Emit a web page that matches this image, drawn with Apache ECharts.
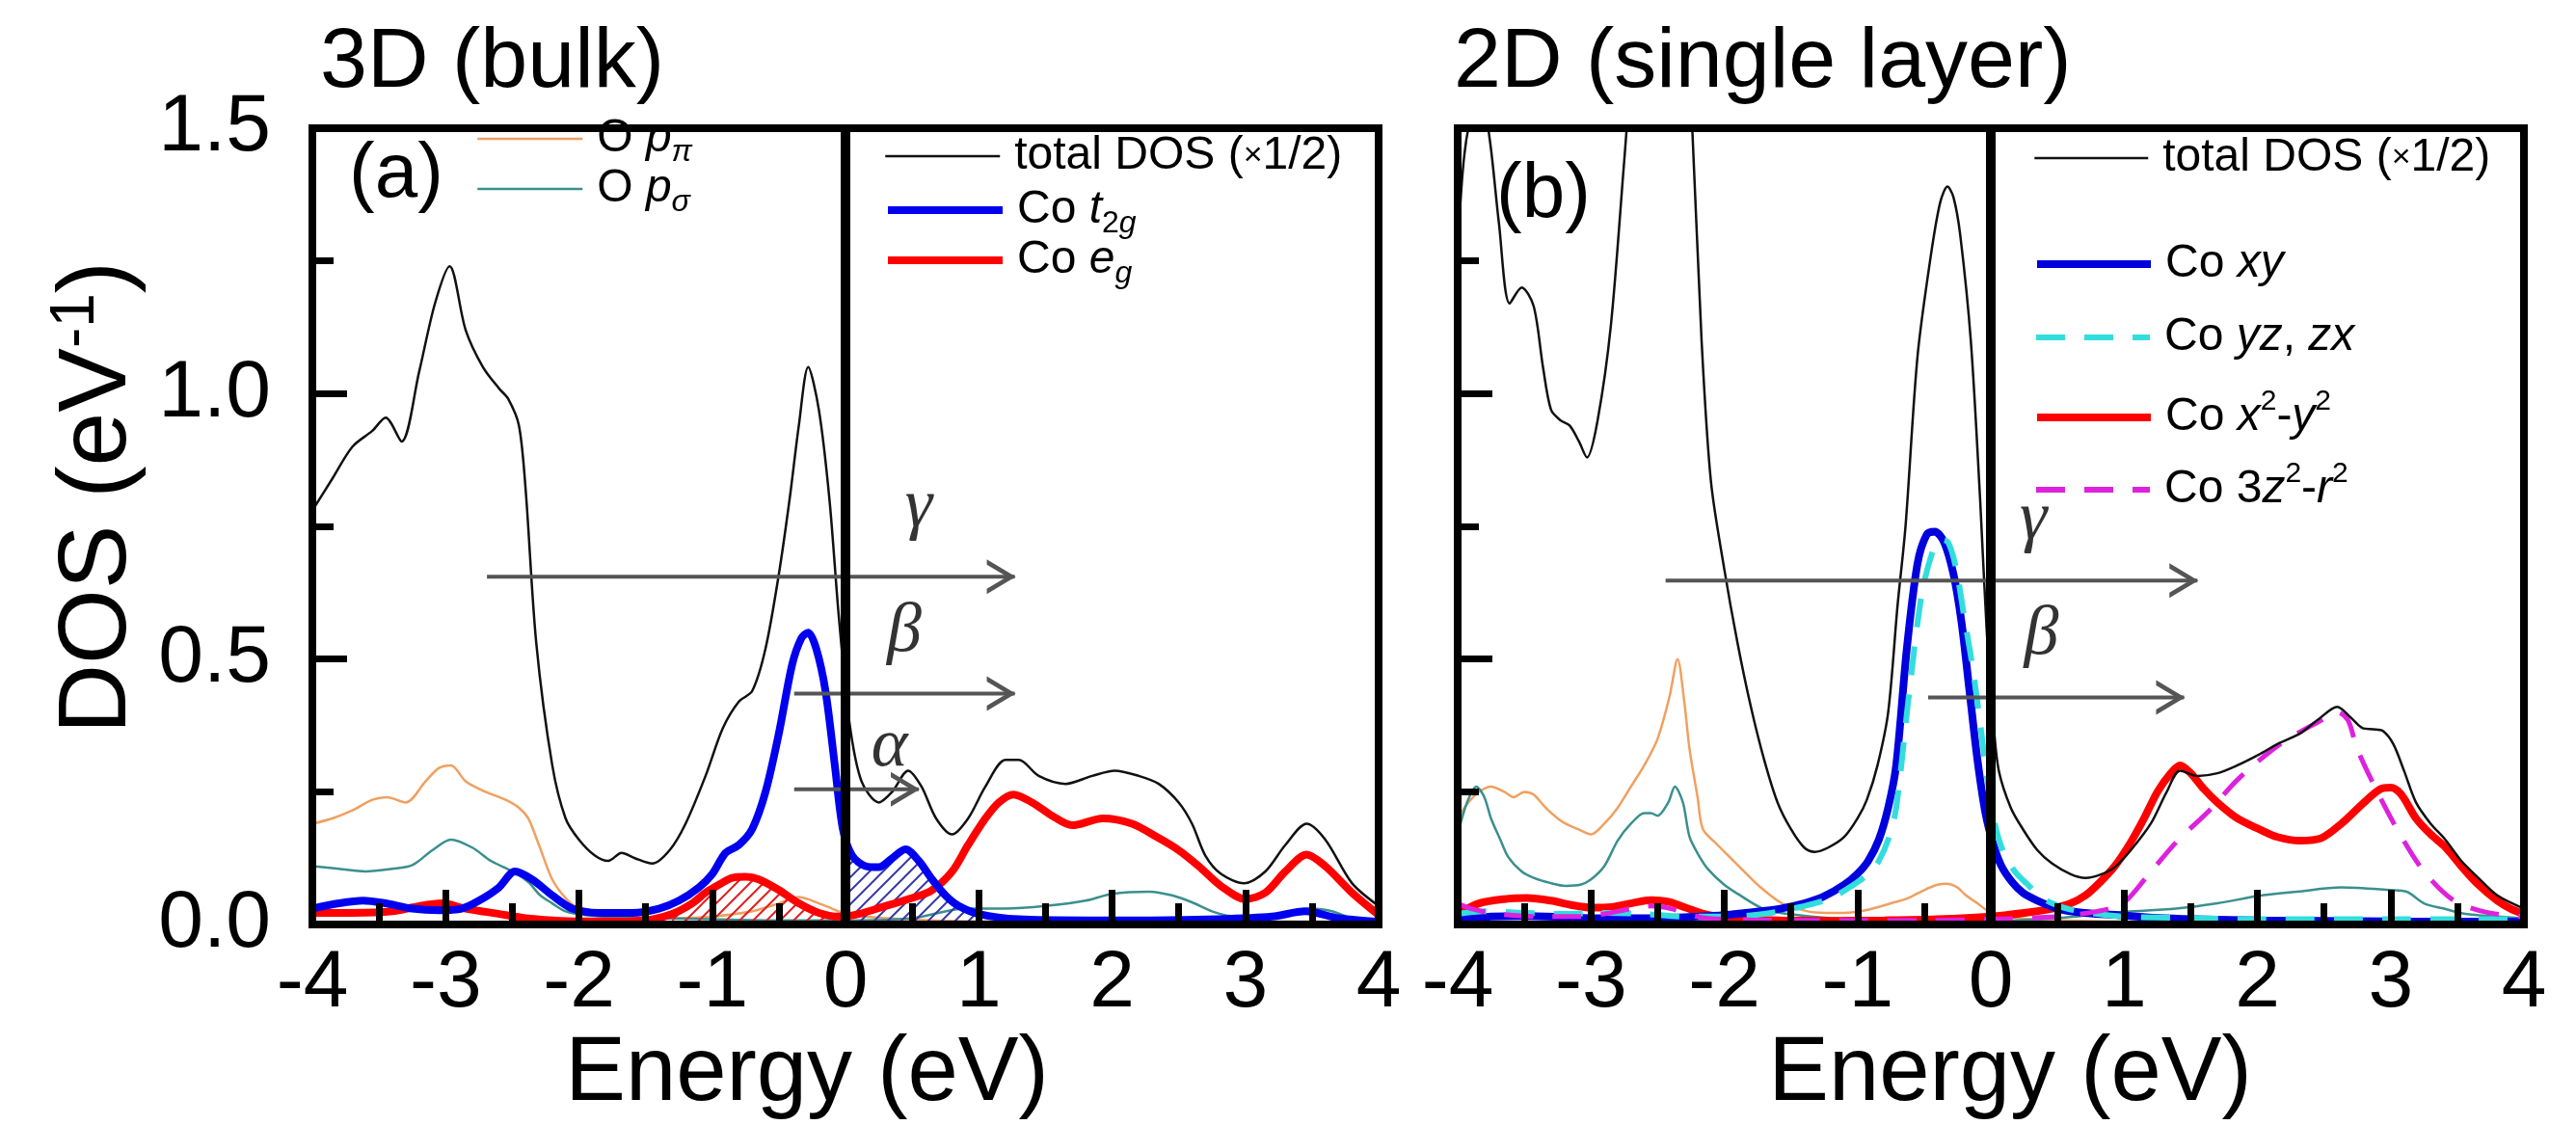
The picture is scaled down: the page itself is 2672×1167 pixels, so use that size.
<!DOCTYPE html>
<html>
<head>
<meta charset="utf-8">
<title>DOS 3D bulk vs 2D single layer</title>
<script src="https://cdn.jsdelivr.net/npm/echarts@6/dist/echarts.min.js"></script>
<style>
html, body { margin: 0; padding: 0; background: #fff; }
#chart { width: 2672px; height: 1167px; }
</style>
</head>
<body>
<div id="chart"></div>
<script>
// ---------- panel (a): 3D (bulk) ----------
var totA_E = [-4.0,-3.85,-3.7,-3.55,-3.45,-3.33,-3.2,-3.08,-2.97,-2.85,-2.72,-2.6,-2.53,-2.45,-2.4,-2.32,-2.2,-2.1,-2.0,-1.88,-1.78,-1.68,-1.58,-1.45,-1.32,-1.2,-1.05,-0.92,-0.8,-0.7,-0.6,-0.5,-0.42,-0.35,-0.28,-0.2,-0.12,-0.05,0.03,0.12,0.25,0.35,0.47,0.57,0.68,0.8,0.92,1.05,1.2,1.3,1.45,1.65,1.85,2.02,2.2,2.35,2.5,2.6,2.7,2.82,2.99,3.15,3.3,3.46,3.6,3.8,4.0];
var totA   = [0.78,0.84,0.9,0.93,0.955,0.91,1.04,1.17,1.24,1.12,1.05,1.01,0.99,0.94,0.82,0.53,0.3,0.2,0.16,0.13,0.12,0.135,0.125,0.115,0.14,0.19,0.28,0.37,0.42,0.44,0.52,0.66,0.8,0.94,1.05,0.97,0.8,0.58,0.38,0.27,0.23,0.25,0.29,0.26,0.2,0.17,0.2,0.26,0.31,0.31,0.28,0.265,0.28,0.29,0.28,0.265,0.23,0.19,0.13,0.095,0.078,0.1,0.15,0.19,0.16,0.078,0.035];

var t2gA_E = [-4.0,-3.8,-3.62,-3.45,-3.25,-3.05,-2.88,-2.75,-2.6,-2.48,-2.35,-2.2,-2.05,-1.85,-1.6,-1.4,-1.25,-1.1,-1.0,-0.9,-0.8,-0.7,-0.6,-0.5,-0.4,-0.33,-0.28,-0.22,-0.15,-0.08,-0.02,0.05,0.15,0.25,0.35,0.45,0.55,0.65,0.75,0.85,1.0,1.3,1.8,2.3,2.8,3.2,3.45,3.7,4.0];
var t2gA   = [0.03,0.04,0.045,0.04,0.03,0.027,0.03,0.045,0.07,0.1,0.085,0.055,0.03,0.022,0.022,0.03,0.045,0.07,0.095,0.135,0.15,0.18,0.25,0.36,0.49,0.54,0.55,0.52,0.44,0.3,0.18,0.13,0.11,0.108,0.125,0.142,0.12,0.085,0.055,0.035,0.02,0.01,0.008,0.008,0.01,0.015,0.025,0.012,0.005];

var egA_E = [-4.0,-3.7,-3.4,-3.2,-3.03,-2.85,-2.6,-2.4,-2.2,-2.0,-1.7,-1.45,-1.3,-1.15,-1.05,-0.95,-0.85,-0.75,-0.65,-0.5,-0.35,-0.2,-0.05,0.1,0.3,0.5,0.65,0.8,0.92,1.05,1.15,1.26,1.4,1.55,1.7,1.93,2.15,2.35,2.5,2.65,2.82,3.0,3.15,3.3,3.46,3.6,3.8,4.0];
var egA   = [0.022,0.022,0.025,0.035,0.04,0.03,0.02,0.012,0.008,0.006,0.006,0.01,0.02,0.04,0.06,0.075,0.088,0.09,0.085,0.065,0.04,0.022,0.015,0.02,0.035,0.05,0.065,0.1,0.15,0.2,0.23,0.245,0.23,0.205,0.187,0.2,0.19,0.163,0.14,0.11,0.072,0.048,0.06,0.1,0.132,0.11,0.06,0.018];

var ppiA_E = [-4.0,-3.85,-3.7,-3.55,-3.44,-3.3,-3.15,-3.05,-2.96,-2.85,-2.7,-2.55,-2.45,-2.38,-2.3,-2.2,-2.1,-2.0,-1.85,-1.6,-1.3,-1.0,-0.7,-0.5,-0.35,-0.25,-0.1,0.0,0.3,1.0,2.0,3.0,4.0];
var ppiA   = [0.19,0.2,0.215,0.235,0.24,0.23,0.27,0.295,0.3,0.27,0.25,0.235,0.22,0.2,0.15,0.085,0.05,0.03,0.02,0.012,0.012,0.015,0.025,0.04,0.052,0.045,0.03,0.02,0.012,0.006,0.006,0.006,0.005];

var psgA_E = [-4.0,-3.8,-3.6,-3.4,-3.25,-3.1,-2.96,-2.8,-2.66,-2.5,-2.38,-2.29,-2.2,-2.1,-1.95,-1.7,-1.4,-1.0,-0.5,0.0,0.5,0.9,1.2,1.5,1.8,2.0,2.28,2.45,2.6,2.75,2.9,3.1,3.3,3.5,3.65,3.8,4.0];
var psgA   = [0.11,0.105,0.1,0.105,0.112,0.14,0.16,0.145,0.12,0.1,0.08,0.055,0.04,0.025,0.018,0.014,0.012,0.01,0.008,0.008,0.012,0.03,0.03,0.035,0.045,0.058,0.062,0.055,0.042,0.025,0.016,0.015,0.022,0.03,0.025,0.012,0.008];

// ---------- panel (b): 2D (single layer) ----------
var totB_E = [-4.0,-3.95,-3.88,-3.82,-3.76,-3.69,-3.61,-3.52,-3.43,-3.36,-3.3,-3.23,-3.16,-3.09,-3.03,-2.95,-2.85,-2.75,-2.65,-2.5,-2.35,-2.24,-2.17,-2.1,-2.0,-1.9,-1.8,-1.7,-1.6,-1.5,-1.4,-1.32,-1.22,-1.1,-1.0,-0.93,-0.85,-0.77,-0.7,-0.64,-0.55,-0.45,-0.38,-0.325,-0.28,-0.23,-0.15,-0.08,-0.03,0.02,0.06,0.15,0.24,0.35,0.46,0.6,0.71,0.82,0.93,1.05,1.2,1.32,1.42,1.55,1.7,1.85,2.01,2.15,2.32,2.45,2.6,2.7,2.79,2.87,2.94,3.02,3.1,3.19,3.3,3.41,3.53,3.65,3.8,4.0];
var totB   = [1.27,1.45,1.54,1.55,1.48,1.32,1.17,1.2,1.165,1.05,0.97,0.95,0.94,0.91,0.88,0.95,1.13,1.44,1.75,2.0,2.0,1.5,1.1,0.835,0.67,0.53,0.41,0.31,0.23,0.18,0.145,0.137,0.145,0.165,0.2,0.235,0.3,0.4,0.6,0.75,1.07,1.26,1.36,1.39,1.37,1.3,1.1,0.8,0.55,0.38,0.29,0.22,0.18,0.14,0.115,0.095,0.088,0.094,0.108,0.14,0.19,0.25,0.29,0.28,0.285,0.3,0.32,0.34,0.36,0.385,0.41,0.39,0.37,0.368,0.365,0.34,0.29,0.23,0.19,0.16,0.12,0.09,0.055,0.03];

var xyB_E = [-4.0,-3.9,-3.75,-3.5,-3.2,-3.0,-2.8,-2.6,-2.4,-2.2,-2.0,-1.8,-1.58,-1.4,-1.26,-1.1,-1.0,-0.92,-0.84,-0.77,-0.71,-0.63,-0.55,-0.48,-0.42,-0.35,-0.28,-0.22,-0.16,-0.1,-0.04,0.02,0.08,0.16,0.24,0.35,0.5,0.7,0.95,1.3,2.0,3.0,4.0];
var xyB   = [0.01,0.012,0.015,0.016,0.014,0.012,0.012,0.012,0.013,0.015,0.018,0.023,0.03,0.04,0.052,0.075,0.096,0.12,0.16,0.22,0.3,0.52,0.68,0.735,0.74,0.72,0.66,0.57,0.44,0.31,0.21,0.15,0.11,0.08,0.06,0.045,0.03,0.022,0.018,0.012,0.008,0.006,0.005];

var yzB_E = [-4.0,-3.8,-3.5,-3.2,-2.9,-2.6,-2.3,-2.0,-1.7,-1.4,-1.2,-1.0,-0.9,-0.84,-0.77,-0.71,-0.62,-0.52,-0.44,-0.38,-0.32,-0.26,-0.2,-0.14,-0.08,-0.03,0.03,0.09,0.18,0.27,0.36,0.46,0.6,0.8,1.0,1.5,2.0,3.0,4.0];
var yzB   = [0.02,0.025,0.022,0.02,0.022,0.02,0.015,0.015,0.02,0.035,0.05,0.08,0.1,0.12,0.16,0.22,0.42,0.62,0.7,0.725,0.72,0.67,0.58,0.49,0.38,0.28,0.19,0.14,0.1,0.077,0.055,0.04,0.028,0.02,0.015,0.012,0.01,0.01,0.01];

var x2B_E = [-4.0,-3.84,-3.65,-3.48,-3.3,-3.15,-3.0,-2.85,-2.7,-2.55,-2.42,-2.29,-2.15,-2.03,-1.8,-1.58,-1.2,-0.8,-0.4,0.0,0.25,0.46,0.6,0.71,0.82,0.93,1.05,1.15,1.25,1.35,1.42,1.5,1.6,1.7,1.85,2.01,2.15,2.32,2.48,2.63,2.8,2.92,3.0,3.08,3.19,3.3,3.41,3.53,3.65,3.8,3.9,4.0];
var x2B   = [0.02,0.04,0.048,0.05,0.045,0.037,0.032,0.033,0.04,0.046,0.043,0.032,0.02,0.015,0.01,0.008,0.007,0.008,0.01,0.015,0.022,0.03,0.04,0.055,0.08,0.11,0.155,0.2,0.25,0.285,0.3,0.285,0.255,0.23,0.2,0.18,0.165,0.158,0.163,0.19,0.23,0.255,0.258,0.245,0.2,0.17,0.146,0.11,0.077,0.045,0.03,0.02];

var z2B_E = [-4.0,-3.9,-3.7,-3.4,-3.1,-2.9,-2.7,-2.55,-2.4,-2.2,-2.0,-1.5,-1.0,-0.5,0.0,0.5,0.8,0.99,1.17,1.39,1.64,1.86,2.17,2.48,2.6,2.68,2.75,2.91,3.07,3.25,3.47,3.72,4.0];
var z2B   = [0.04,0.03,0.02,0.015,0.015,0.02,0.03,0.035,0.03,0.015,0.01,0.008,0.008,0.008,0.01,0.015,0.025,0.04,0.09,0.155,0.215,0.275,0.34,0.385,0.4,0.385,0.33,0.245,0.17,0.1,0.046,0.023,0.015];

var ppiB_E = [-4.0,-3.92,-3.84,-3.75,-3.65,-3.58,-3.5,-3.43,-3.34,-3.25,-3.19,-3.1,-3.0,-2.9,-2.8,-2.7,-2.6,-2.5,-2.41,-2.35,-2.3,-2.26,-2.2,-2.16,-2.05,-1.97,-1.85,-1.74,-1.58,-1.45,-1.32,-1.1,-0.94,-0.75,-0.62,-0.5,-0.4,-0.33,-0.25,-0.2,-0.1,0.0,0.3,1.0,2.0,3.0,4.0];
var ppiB   = [0.2,0.23,0.25,0.26,0.25,0.24,0.25,0.245,0.22,0.2,0.19,0.18,0.17,0.19,0.22,0.26,0.3,0.35,0.43,0.5,0.42,0.33,0.24,0.18,0.15,0.13,0.1,0.073,0.042,0.03,0.023,0.022,0.027,0.04,0.05,0.065,0.075,0.077,0.07,0.058,0.04,0.023,0.01,0.006,0.005,0.005,0.005];

var psgB_E = [-4.0,-3.93,-3.86,-3.8,-3.75,-3.68,-3.62,-3.52,-3.43,-3.3,-3.19,-3.08,-3.0,-2.9,-2.8,-2.7,-2.6,-2.55,-2.5,-2.42,-2.37,-2.31,-2.26,-2.19,-2.12,-2.0,-1.9,-1.71,-1.52,-1.2,-0.8,-0.4,0.0,0.5,0.93,1.39,1.7,2.01,2.3,2.63,3.0,3.12,3.25,3.4,3.56,3.8,4.0];
var psgB   = [0.17,0.23,0.26,0.24,0.2,0.16,0.127,0.1,0.088,0.078,0.073,0.075,0.085,0.11,0.158,0.19,0.21,0.21,0.205,0.23,0.26,0.23,0.165,0.13,0.104,0.075,0.058,0.03,0.02,0.012,0.008,0.007,0.007,0.012,0.023,0.03,0.04,0.054,0.062,0.07,0.065,0.062,0.04,0.03,0.02,0.015,0.012];

// Fermi level and y range
var fermiE = 0;
var dosMax = 1.5;

// arrows (energy from -> to at height y) and greek labels
var arrowsA = [
    {label: 'γ', from: -2.69, to: 1.27, y: 0.655, lx: 0.55, ly: 0.785},
    {label: 'β', from: -0.385, to: 1.27, y: 0.435, lx: 0.44, ly: 0.55},
    {label: 'α', from: -0.385, to: 0.55, y: 0.255, lx: 0.33, ly: 0.335}
];
var arrowsB = [
    {label: 'γ', from: -2.44, to: 1.55, y: 0.648, lx: 0.32, ly: 0.76},
    {label: 'β', from: -0.47, to: 1.45, y: 0.428, lx: 0.38, ly: 0.545}
];

var FONT = 'Liberation Sans';

function zip(xs, ys) {
    return xs.map(function (x, i) { return [x, ys[i]]; });
}
function pick(xs, ys, lo, hi) {
    return zip(xs, ys).filter(function (p) { return p[0] >= lo && p[0] <= hi; });
}

function hatch(color) {
    var c = document.createElement('canvas');
    c.width = 14; c.height = 14;
    var ctx = c.getContext('2d');
    ctx.strokeStyle = color;
    ctx.lineWidth = 2;
    ctx.beginPath();
    ctx.moveTo(0, 14); ctx.lineTo(14, 0);
    ctx.moveTo(-7, 7); ctx.lineTo(7, -7);
    ctx.moveTo(7, 21); ctx.lineTo(21, 7);
    ctx.stroke();
    return c;
}

function line(name, data, g, color, width, dash, z) {
    return {
        type: 'line', name: name, xAxisIndex: g, yAxisIndex: g,
        data: data, symbol: 'none', smooth: 0.3, z: z,
        lineStyle: {color: color, width: width, type: dash || 'solid'},
        itemStyle: {color: color},
        silent: true, animation: false
    };
}

// open chevron pointing right
var arrowHead = 'path://M0,0 L30,18 L0,36 L0,30.5 L21,18 L0,5.5 Z';

function arrowSeries(a, g) {
    return {
        type: 'line', name: 'arrow ' + a.label, xAxisIndex: g, yAxisIndex: g,
        showSymbol: true, z: 10, silent: true, animation: false,
        lineStyle: {color: '#555', width: 4},
        itemStyle: {color: '#555'},
        data: [
            {value: [a.from, a.y], symbol: 'none'},
            {value: [a.to, a.y], symbol: arrowHead, symbolSize: [30, 36], symbolOffset: [-14, 0]}
        ],
        markPoint: {
            silent: true, animation: false,
            symbol: 'circle', symbolSize: 1,
            itemStyle: {color: 'rgba(0,0,0,0)'},
            label: {show: true, position: 'inside', formatter: '{b}', color: '#333',
                fontSize: 72, fontStyle: 'italic', fontFamily: 'Liberation Serif'},
            data: [{name: a.label, coord: [a.lx, a.ly]}]
        }
    };
}

function fermiSeries(g) {
    return {
        type: 'line', name: 'E_F', xAxisIndex: g, yAxisIndex: g,
        data: [[fermiE, 0], [fermiE, dosMax]], symbol: 'none', z: 11,
        lineStyle: {color: '#000', width: 10}, silent: true, animation: false
    };
}

var hatchEg = line('eg hatch', pick(egA_E, egA, -1.35, 0), 0, 'rgba(0,0,0,0)', 0, null, 4);
hatchEg.areaStyle = {color: {image: hatch('#e02020'), repeat: 'repeat'}, opacity: 1};
var hatchT2g = line('t2g hatch', pick(t2gA_E, t2gA, -0.02, 1.0), 0, 'rgba(0,0,0,0)', 0, null, 4);
hatchT2g.areaStyle = {color: {image: hatch('#3a3aa8'), repeat: 'repeat'}, opacity: 1};

var series = [
    line('O pπ', zip(ppiA_E, ppiA), 0, '#f0a060', 2.5, null, 3),
    line('O pσ', zip(psgA_E, psgA), 0, '#3b8f8f', 2.5, null, 3),
    hatchEg, hatchT2g,
    line('Co eg', zip(egA_E, egA), 0, '#ff0000', 8, null, 5),
    line('Co t2g', zip(t2gA_E, t2gA), 0, '#0000ee', 8, null, 6),
    line('total DOS (×1/2)', zip(totA_E, totA), 0, '#111', 2.5, null, 9),
    fermiSeries(0),
    line('O pπ', zip(ppiB_E, ppiB), 1, '#f0a060', 2.5, null, 3),
    line('O pσ', zip(psgB_E, psgB), 1, '#3b8f8f', 2.5, null, 3),
    line('Co x2-y2', zip(x2B_E, x2B), 1, '#ff0000', 8, null, 5),
    line('Co xy', zip(xyB_E, xyB), 1, '#0000dd', 8, null, 6),
    line('Co yz, zx', zip(yzB_E, yzB), 1, '#33dddd', 6, [30, 20], 7),
    line('Co 3z2-r2', zip(z2B_E, z2B), 1, '#dd22dd', 5, [30, 20], 8),
    line('total DOS (×1/2)', zip(totB_E, totB), 1, '#111', 2.5, null, 9),
    fermiSeries(1)
];
arrowsA.forEach(function (a) { series.push(arrowSeries(a, 0)); });
arrowsB.forEach(function (a) { series.push(arrowSeries(a, 1)); });

// legend labels with sub/superscripts
var legendLabels = {
    'O pπ': '{f|O }{i|p}{sbi|π}',
    'O pσ': '{f|O }{i|p}{sbi|σ}',
    'total DOS (×1/2)': '{f|total DOS (}{m|×}{r|1/2)}',
    'Co t2g': '{f|Co }{i|t}{sb|2}{sbi|g}',
    'Co eg': '{f|Co }{i|e}{sbi|g}',
    'Co xy': '{f|Co }{i|xy}',
    'Co yz, zx': '{f|Co }{i|yz}{r|, }{i|zx}',
    'Co x2-y2': '{f|Co }{i|x}{sp|2}{r|-}{i|y}{sp|2}',
    'Co 3z2-r2': '{f|Co 3}{i|z}{sp|2}{r|-}{i|r}{sp|2}'
};
var LH = 60;
var LF = 48;
var legendText = {
    fontFamily: FONT, color: '#000', fontSize: LF,
    rich: {
        f: {fontSize: LF, lineHeight: LH, padding: [0, 0, 0, 10]},
        r: {fontSize: LF, lineHeight: LH},
        i: {fontSize: LF, lineHeight: LH, fontStyle: 'italic'},
        m: {fontSize: 34, lineHeight: LH},
        sb: {fontSize: 32, lineHeight: LH, padding: [28, 0, 0, 0]},
        sbi: {fontSize: 32, lineHeight: LH, fontStyle: 'italic', padding: [28, 0, 0, 0]},
        sp: {fontSize: 30, lineHeight: LH, padding: [0, 0, 32, 0]}
    }
};

function legendRow(name, left, center, width, lw) {
    return {
        data: [name], left: left, top: center - LH / 2, orient: 'vertical',
        itemWidth: width, itemHeight: 20, padding: 0, selectedMode: false,
        itemStyle: {opacity: 0},
        lineStyle: {width: lw},
        textStyle: legendText,
        formatter: function (n) { return legendLabels[n] || n; }
    };
}

var legends = [
    legendRow('O pπ', 494, 144, 109, 2.5),
    legendRow('O pσ', 494, 196, 109, 2.5),
    legendRow('total DOS (×1/2)', 917, 168, 119, 2.5),
    legendRow('Co t2g', 917, 218, 119, 8),
    legendRow('Co eg', 917, 270, 119, 8),
    legendRow('total DOS (×1/2)', 2109, 170, 118, 2.5),
    legendRow('Co xy', 2109, 280, 118, 8),
    legendRow('Co yz, zx', 2109, 356, 118, 6),
    legendRow('Co x2-y2', 2109, 432, 118, 8),
    legendRow('Co 3z2-r2', 2109, 507, 118, 6)
];

function xAxis(g, pad) {
    return {
        type: 'value', gridIndex: g, min: -4, max: 4, interval: 1, z: 20,
        axisLine: {show: false},
        axisTick: {show: true, inside: true, length: 36, lineStyle: {color: '#000', width: 7}},
        minorTick: {show: true, splitNumber: 2, length: 22, lineStyle: {color: '#000', width: 7}},
        splitLine: {show: false},
        axisLabel: {show: true, color: '#000', fontFamily: FONT, fontSize: 84, margin: 20,
            showMinLabel: true, showMaxLabel: true},
        name: 'Energy (eV)', nameLocation: 'middle', nameGap: 90,
        nameTextStyle: {color: '#000', fontFamily: FONT, fontSize: 94, padding: pad}
    };
}
function yAxis(g, labels) {
    var ax = {
        type: 'value', gridIndex: g, min: 0, max: dosMax, interval: 0.5, z: 20,
        axisLine: {show: false, onZero: false},
        axisTick: {show: true, inside: true, length: 36, lineStyle: {color: '#000', width: 7}},
        minorTick: {show: true, splitNumber: 2, length: 22, lineStyle: {color: '#000', width: 7}},
        splitLine: {show: false},
        axisLabel: {show: labels, color: '#000', fontFamily: FONT, fontSize: 84, margin: 43,
            formatter: function (v) { return v.toFixed(1); }}
    };
    if (labels) {
        ax.name = '{a|DOS (eV}{s|-1}{a|)}';
        ax.nameLocation = 'middle';
        ax.nameRotate = 90;
        ax.nameGap = 172;
        ax.nameTextStyle = {
            color: '#000', fontFamily: FONT, fontSize: 100,
            padding: [0, 0, 0, 60],
            rich: {
                a: {fontSize: 100, lineHeight: 100, fontFamily: FONT},
                s: {fontSize: 64, lineHeight: 100, fontFamily: FONT, padding: [0, 0, 46, 0]}
            }
        };
    }
    return ax;
}

var chart = echarts.init(document.getElementById('chart'));
var option = {
    backgroundColor: '#fff',
    animation: false,
    title: [
        {text: '3D (bulk)', left: 332, top: 22, padding: 0,
            textStyle: {fontFamily: FONT, fontSize: 88, fontWeight: 'normal', color: '#000'}},
        {text: '2D (single layer)', left: 1508, top: 22, padding: 0,
            textStyle: {fontFamily: FONT, fontSize: 88, fontWeight: 'normal', color: '#000'}},
        {text: '(a)', left: 362, top: 142, padding: 0,
            textStyle: {fontFamily: FONT, fontSize: 80, fontWeight: 'normal', color: '#000'}},
        {text: '(b)', left: 1552, top: 163, padding: 0,
            textStyle: {fontFamily: FONT, fontSize: 80, fontWeight: 'normal', color: '#000'}}
    ],
    legend: legends,
    grid: [
        {left: 324, top: 133, width: 1106, height: 827, show: true, z: 20,
            borderColor: '#000', borderWidth: 8, backgroundColor: 'rgba(0,0,0,0)', containLabel: false},
        {left: 1512, top: 133, width: 1106, height: 827, show: true, z: 20,
            borderColor: '#000', borderWidth: 8, backgroundColor: 'rgba(0,0,0,0)', containLabel: false}
    ],
    xAxis: [xAxis(0, [0, 80, 0, 0]), xAxis(1, [0, 0, 0, 40])],
    yAxis: [yAxis(0, true), yAxis(1, false)],
    series: series
};
chart.setOption(option);
window.onresize = chart.resize;
</script>
</body>
</html>
